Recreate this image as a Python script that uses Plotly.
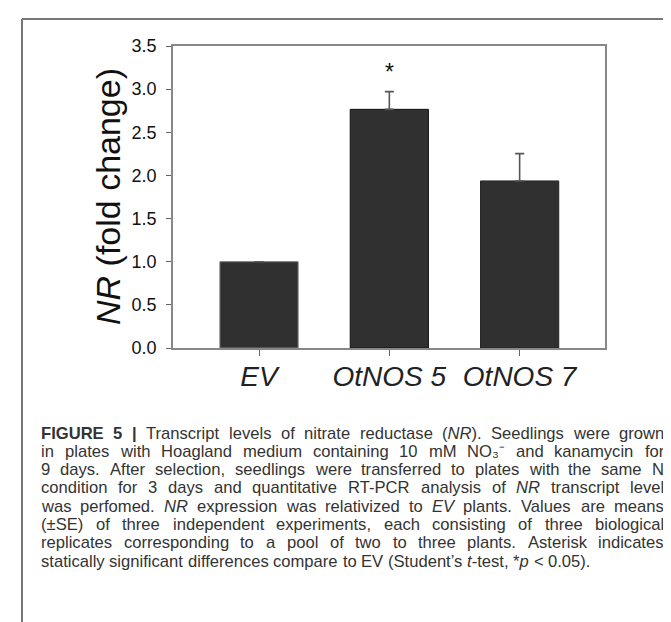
import re
import plotly.graph_objects as go

# ---- data ----
categories = ["EV", "OtNOS 5", "OtNOS 7"]
fold_change = [1.0, 2.766, 1.936]
se_upper = [0.0, 0.205, 0.317]
significant = [False, True, False]

y_ticks = [0.0, 0.5, 1.0, 1.5, 2.0, 2.5, 3.0, 3.5]

caption_lines = [
    "<b>FIGURE</b> <b>5</b> <b>|</b> Transcript levels of nitrate reductase (<i>NR</i>). Seedlings were grown",
    "in plates with Hoagland medium containing 10 mM NO₃⁻ and kanamycin for",
    "9 days. After selection, seedlings were transferred to plates with the same N",
    "condition for 3 days and quantitative RT-PCR analysis of <i>NR</i> transcript level",
    "was perfomed. <i>NR</i> expression was relativized to <i>EV</i> plants. Values are means",
    "(±SE) of three independent experiments, each consisting of three biological",
    "replicates corresponding to a pool of two to three plants. Asterisk indicates",
    "statically significant differences compare to EV (Student’s <i>t</i>-test, *<i>p</i> &lt; 0.05).",
]

W, H = 671, 622
L, R, T, B = 165, 74, 38, 282
PW, PH = W - L - R, H - T - B


def px(x):
    return (x - L) / PW


def py(y):
    return (H - B - y) / PH


FONT = "Liberation Sans, Arial, sans-serif"
CAP_SIZE = 16.6
CAP_LEFT, CAP_RIGHT = 32, 655
CAP_TOP, CAP_STEP = 425, 18.3

# Liberation Sans advance widths (1/1000 em) for width estimation of caption words
_W = {" ": 278, "!": 278, "'": 191, "(": 333, ")": 333, "*": 389, ",": 278, "-": 333,
      ".": 278, "/": 278, ":": 278, ";": 278, "<": 584, ">": 584, "|": 260, "±": 584,
      "’": 222, "−": 584, "₃": 380, "⁻": 380}
for ch in "0123456789":
    _W[ch] = 556
for ch, w in zip("ABCDEFGHIJKLMNOPQRSTUVWXYZ",
                 [667, 667, 722, 722, 667, 611, 778, 722, 278, 500, 667, 556, 833, 722, 778,
                  667, 778, 722, 667, 611, 722, 667, 944, 667, 667, 611]):
    _W[ch] = w
for ch, w in zip("abcdefghijklmnopqrstuvwxyz",
                 [556, 556, 500, 556, 556, 278, 556, 556, 222, 222, 500, 222, 833, 556, 556,
                  556, 556, 333, 500, 278, 556, 500, 722, 500, 500, 500]):
    _W[ch] = w


def word_width(word, size):
    plain = re.sub(r"<[^>]+>", "", word.replace("&lt;", "<"))
    return sum(_W.get(ch, 556) for ch in plain) / 1000.0 * size


fig = go.Figure()
fig.add_trace(go.Bar(
    x=list(range(len(categories))),
    y=fold_change,
    width=0.6,
    marker=dict(color="#303030", line=dict(color=["#777777", "#111111", "#222222"], width=1)),
    error_y=dict(type="data", symmetric=False, array=se_upper, arrayminus=[0] * len(se_upper),
                 color="#555555", thickness=1.6, width=4.5),
    showlegend=False,
    hoverinfo="skip",
))

annotations = []
for i, (v, e, s) in enumerate(zip(fold_change, se_upper, significant)):
    if s:
        annotations.append(dict(x=i, y=v + e, xref="x", yref="y", text="*", showarrow=False,
                                yshift=20, font=dict(family=FONT, size=23, color="#111111")))

annotations.append(dict(x=px(100), y=0.5, xref="paper", yref="paper",
                        text="<i>NR</i> (fold change)", textangle=-90, showarrow=False,
                        xanchor="center", yanchor="middle",
                        font=dict(family=FONT, size=34, color="#111111")))

# justified caption: every line but the last is stretched to the column width
for k, line in enumerate(caption_lines):
    words = line.split(" ")
    widths = [word_width(w, CAP_SIZE) for w in words]
    natural_gap = 0.278 * CAP_SIZE
    if k < len(caption_lines) - 1 and len(words) > 1:
        gap = (CAP_RIGHT - CAP_LEFT - sum(widths)) / (len(words) - 1)
        gap = max(gap, 0.7 * natural_gap)
    else:
        gap = natural_gap
    x = CAP_LEFT
    yline = CAP_TOP + k * CAP_STEP
    for w, wd in zip(words, widths):
        annotations.append(dict(x=px(x), y=py(yline), xref="paper", yref="paper",
                                text=w, showarrow=False, xanchor="left", yanchor="middle",
                                align="left", borderpad=0,
                                font=dict(family=FONT, size=CAP_SIZE, color="#333333")))
        x += wd + gap

shapes = [
    dict(type="line", xref="paper", yref="paper", x0=px(14), x1=px(W + 5), y0=py(11), y1=py(11),
         line=dict(color="#777777", width=2)),
    dict(type="line", xref="paper", yref="paper", x0=px(14), x1=px(14), y0=py(11), y1=py(H + 5),
         line=dict(color="#777777", width=2)),
]

fig.update_layout(
    width=W, height=H,
    margin=dict(l=L, r=R, t=T, b=B),
    paper_bgcolor="white", plot_bgcolor="white",
    annotations=annotations, shapes=shapes,
    bargap=0.4,
)
fig.update_xaxes(
    range=[-0.66, 2.655],
    tickmode="array", tickvals=list(range(len(categories))),
    ticktext=["<i>%s</i>" % c for c in categories],
    tickfont=dict(family=FONT, size=28, color="#222222"),
    showline=True, linecolor="#888888", linewidth=1.5, mirror=True,
    ticks="outside", ticklen=6, tickcolor="#666666", tickwidth=1,
    ticklabelstandoff=-3,
    showgrid=False, zeroline=False,
)
fig.update_yaxes(
    range=[0, 3.5],
    tickmode="array", tickvals=y_ticks, ticktext=["%.1f" % t for t in y_ticks],
    tickfont=dict(family=FONT, size=18, color="#111111"),
    showline=True, linecolor="#888888", linewidth=1.5, mirror=True,
    ticks="outside", ticklen=5, tickcolor="#666666", tickwidth=1,
    ticklabelstandoff=6,
    showgrid=False, zeroline=False,
)

fig.write_html("out.html")
